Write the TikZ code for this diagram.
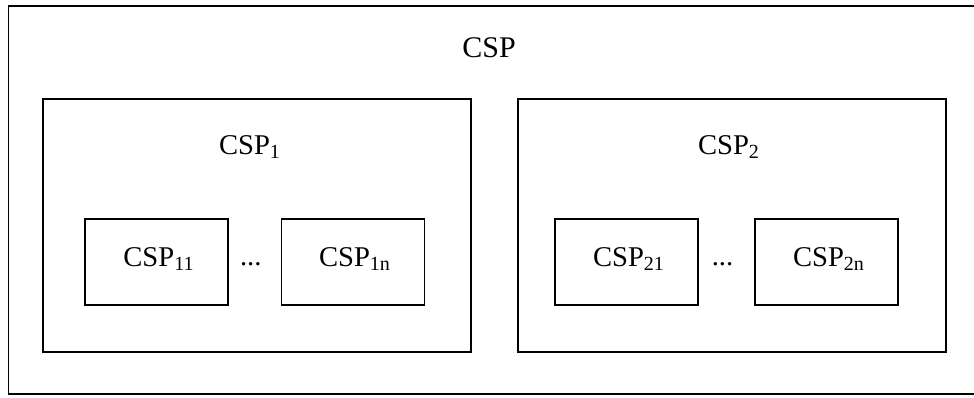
\documentclass[tikz,border=0pt]{standalone}
\usepackage{fontspec}
\setmainfont{Liberation Serif}
\usepackage{tikz}
\usetikzlibrary{calc, positioning}

\begin{document}
\begin{tikzpicture}[x=0.5pt, y=-0.5pt, font=\fontsize{14.3}{16}\selectfont]
\tikzset{every node/.style={inner sep=0mm, outer sep=0mm}}

\tikzstyle{frame}=[draw=black, line width=0.9pt, rectangle]
\tikzstyle{group}=[frame, minimum width=214pt, minimum height=126.5pt]
\tikzstyle{member}=[frame, minimum width=71.5pt, minimum height=43pt]
\tikzstyle{label}=[anchor=base]

\useasboundingbox (0,0) rectangle (974,397);
\clip (0,0) rectangle (974,397);

% outer box, its right side runs off the page
\node[frame, minimum width=486pt, minimum height=194pt] (csp) at (494.5,200) {};
\node[label, font=\fontsize{15}{17}\selectfont] (csp label) at (489,57) {CSP};

\node[group] (csp1) at (257,225.5) {};
\node[group] (csp2) at (732,225.5) {};
\node[label] (csp1 label) at (250,154) {CSP\textsubscript{1}};
\node[label] (csp2 label) at (729,154) {CSP\textsubscript{2}};

\node[member] (csp11) at (156.5,262) {};
\node[member] (csp1n) at (353,262) {};
\node[member] (csp21) at (626.5,262) {};
\node[member] (csp2n) at (826.5,262) {};

\node[label] at (159,266) {CSP\textsubscript{11}};
\node[label] at (355,266) {CSP\textsubscript{1n}};
\node[label] at (629,266) {CSP\textsubscript{21}};
\node[label] at (829,266) {CSP\textsubscript{2n}};

\node[label] (dots1) at ($(csp11.east)!0.5!(csp1n.west)+(-4,3)$) {...};
\node[label] (dots2) at ($(csp21.east)!0.5!(csp2n.west)+(-4,3)$) {...};

\end{tikzpicture}
\end{document}
